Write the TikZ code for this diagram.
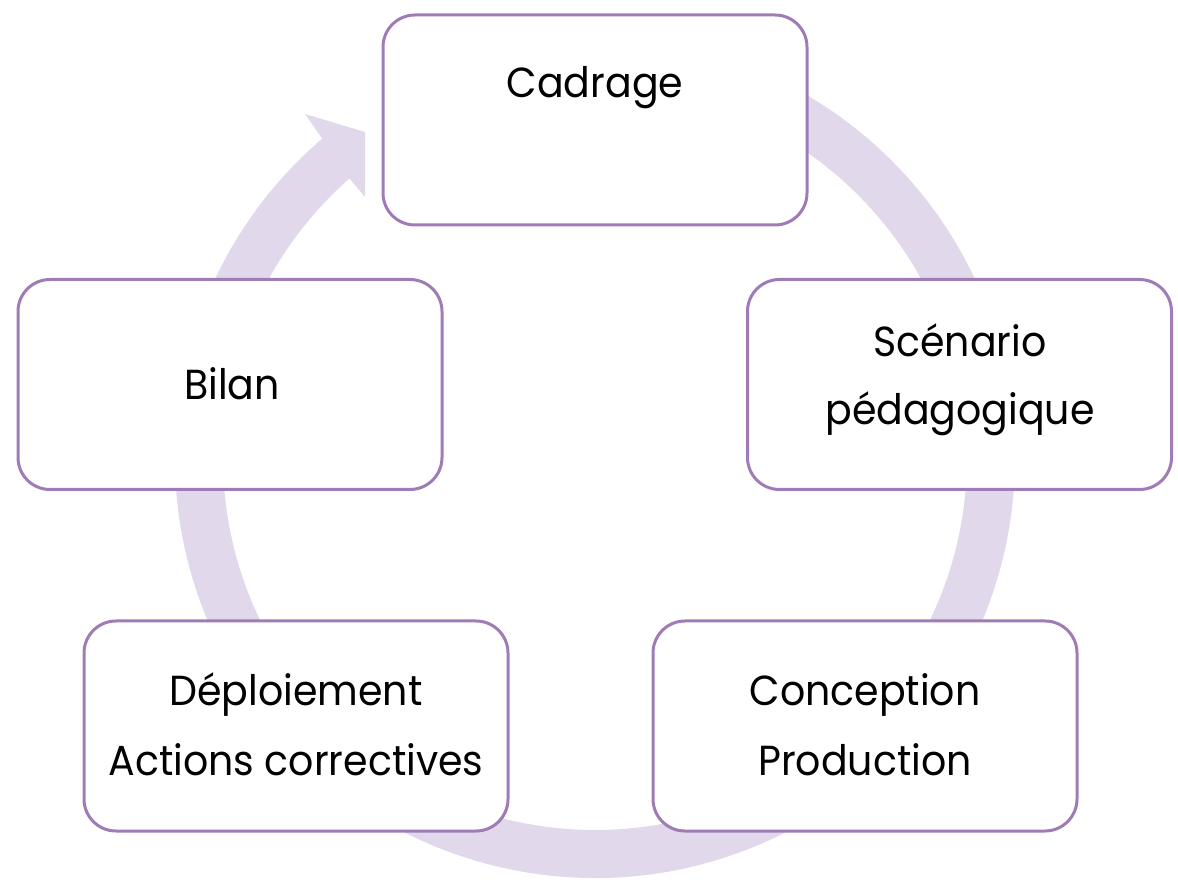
\documentclass[tikz,border=0pt]{standalone}
\usepackage{fontspec}
\setmainfont[FakeStretch=0.94]{Poppins}
\usetikzlibrary{calc}
\definecolor{boxline}{RGB}{160,124,183}
\definecolor{ringc}{RGB}{225,216,235}
\begin{document}
\begin{tikzpicture}[x=1pt,y=1pt,
  stagebox/.style={draw=boxline,line width=3pt,fill=white,rounded corners=32pt,
    minimum width=424pt,minimum height=210pt,inner sep=0pt},
  lbl/.style={anchor=base,inner sep=0pt,font=\fontsize{42}{50}\selectfont}]
\useasboundingbox (0,0) rectangle (1178,887);
\coordinate (c) at (595,429);
% ring arrow
\fill[ringc] ([shift={(80:420pt)}]c) arc[start angle=80,end angle=-229.5,radius=420pt]
  -- (305,773) -- (365,755) -- (365,690)
  -- ([shift={(-228.7:372pt)}]c) arc[start angle=-228.7,end angle=80,radius=372pt] -- cycle;
% boxes
\node[stagebox] (cad) at (595,767) {};
\node[stagebox] (sce) at (959.5,502.5) {};
\node[stagebox] (bil) at (230,502.5) {};
\node[stagebox] (dep) at (296,161) {};
\node[stagebox] (con) at (865,161) {};
% labels
\node[lbl] (tcad) at (595,789) {Cadrage};
\node[lbl] (tsce1) at (960,530) {Scénario};
\node[lbl] (tsce2) at (960,462) {pédagogique};
\node[lbl] (tbil) at (232,487.5) {Bilan};
\node[lbl] (tdep1) at (296,182) {Déploiement};
\node[lbl] (tdep2) at (296,112) {Actions correctives};
\node[lbl] (tcon1) at (865,182) {Conception};
\node[lbl] (tcon2) at (865,112) {Production};
\end{tikzpicture}
\end{document}
